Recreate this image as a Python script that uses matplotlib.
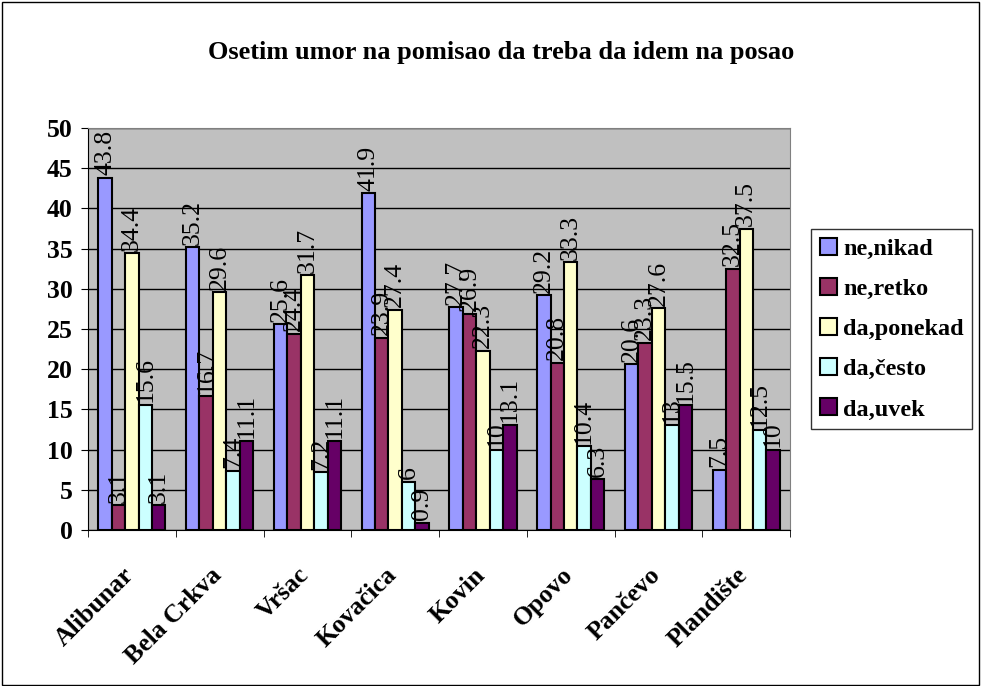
import matplotlib.pyplot as plt
import matplotlib.transforms as mtransforms
import numpy as np

plt.rcParams['font.family'] = ['Liberation Serif', 'DejaVu Serif']

places = ['Alibunar', 'Bela Crkva', 'Vršac', 'Kovačica', 'Kovin', 'Opovo', 'Pančevo', 'Plandište']
answers = ['ne,nikad', 'ne,retko', 'da,ponekad', 'da,često', 'da,uvek']
ne_nikad = [43.8, 35.2, 25.6, 41.9, 27.7, 29.2, 20.6, 7.5]
ne_retko = [3.1, 16.7, 24.4, 23.9, 26.9, 20.8, 23.3, 32.5]
da_ponekad = [34.4, 29.6, 31.7, 27.4, 22.3, 33.3, 27.6, 37.5]
da_cesto = [15.6, 7.4, 7.2, 6, 10, 10.4, 13, 12.5]
da_uvek = [3.1, 11.1, 11.1, 0.9, 13.1, 6.3, 15.5, 10]
series = [ne_nikad, ne_retko, da_ponekad, da_cesto, da_uvek]
colors = ['#9999FF', '#993366', '#FFFFCC', '#CCFFFF', '#660066']

fig = plt.figure(figsize=(9.82, 6.86), dpi=100)
# outer frame
fig.patches.append(plt.Rectangle((0.002, 0.002), 0.995, 0.995, transform=fig.transFigure,
                                 fill=False, edgecolor='black', linewidth=1))
ax = fig.add_axes([0.0896, 0.2274, 0.715, 0.586])
ax.set_facecolor('#C0C0C0')

x = np.arange(len(places))
w = 0.153
for i, (vals, col, name) in enumerate(zip(series, colors, answers)):
    pos = x + (i - 2) * w
    ax.bar(pos, vals, w, color=col, edgecolor='black', linewidth=1.5, label=name, zorder=3)
    for p, v in zip(pos, vals):
        ax.text(p, v + 0.3, f'{v:g}', rotation=90, ha='center', va='bottom',
                fontsize=18.5, zorder=4)

ax.set_xlim(-0.5, len(places) - 0.5)
ax.set_ylim(0, 50)
ax.set_yticks(range(0, 51, 5))
ax.yaxis.grid(True, color='black', linewidth=1)
ax.set_axisbelow(True)
ax.tick_params(axis='y', labelsize=18.5, direction='out', length=5, pad=6)
for lab in ax.get_yticklabels():
    lab.set_fontweight('bold')

ax.set_xticks(x)
ax.set_xticklabels(places, rotation=45, ha='right', rotation_mode='anchor',
                   fontsize=18.5, fontweight='bold')
ax.tick_params(axis='x', length=0, pad=24)
shift = mtransforms.ScaledTranslation(-10 / 100, 0, fig.dpi_scale_trans)
for lab in ax.get_xticklabels():
    lab.set_transform(lab.get_transform() + shift)
ax.set_xticks(np.arange(-0.5, len(places), 1), minor=True)
ax.tick_params(axis='x', which='minor', length=5, direction='out')

for s in ['top', 'right']:
    ax.spines[s].set_color('#808080')
ax.spines['left'].set_color('black')
ax.spines['bottom'].set_color('black')

fig.text(0.51, 0.924, 'Osetim umor na pomisao da treba da idem na posao',
         ha='center', va='center', fontsize=19, fontweight='bold')

leg = ax.legend(loc='center left', bbox_to_anchor=(1.02, 0.5),
                prop={'weight': 'bold', 'size': 17.5}, frameon=True, fancybox=False,
                edgecolor='black', handlelength=0.7, handleheight=0.7,
                handletextpad=0.25, labelspacing=0.75, borderpad=0.35,
                borderaxespad=0.3)
leg.get_frame().set_linewidth(1)

fig.savefig('out.png', dpi=100)
